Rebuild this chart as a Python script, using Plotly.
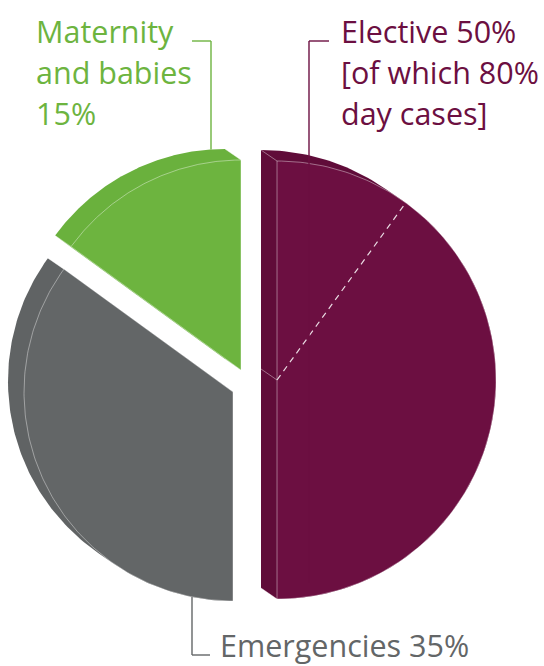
import numpy as np
import plotly.graph_objects as go

# ---- data -------------------------------------------------------------
categories = ["Elective", "Emergencies", "Maternity and babies"]
shares = [50, 35, 15]                 # share of total activity, %
elective_day_case_share = 80          # % of elective work done as day cases
label_lines = [
    ["Elective 50%", "[of which 80%", "day cases]"],
    ["Emergencies 35%"],
    ["Maternity", "and babies", "15%"],
]

# ---- style ------------------------------------------------------------
face_colors = ["#6c0f41", "#636667", "#6db43f"]
wall_colors = ["#600c39", "#606364", "#6ab13d"]
edge_color = "rgba(255,255,255,0.5)"
FONT = "Open Sans"
FONT_SIZE = 30.5

W, H = 544, 666
CX, CY = 256, 380                       # common centre of the pie (axis units = px)
RADIUS = [219, 209, 210]                # nearer slice drawn slightly larger
EXPLODE = [(21, 0), (-23, 12), (-15, -10)]   # offset of each slice from the centre
DEPTH = np.array([-16.0, -11.0])        # extrusion of the back face

LINE_GAP = 41
label_pos = [(342, 41), (221, 655), (37, 41)]   # left x, first baseline y


def arc_point(apex, theta_deg, r):
    t = np.radians(theta_deg)
    return np.array([apex[0] + r * np.sin(t), apex[1] - r * np.cos(t)])


def slice_polygon(apex, a0, a1, r, n=150):
    th = np.linspace(a0, a1, n)
    pts = [np.array(apex)] + [arc_point(apex, t, r) for t in th] + [np.array(apex)]
    return np.array(pts)


def convex_hull(points):
    pts = sorted(set(map(tuple, np.round(points, 4))))
    def cross(o, a, b):
        return (a[0] - o[0]) * (b[1] - o[1]) - (a[1] - o[1]) * (b[0] - o[0])
    lower, upper = [], []
    for p in pts:
        while len(lower) >= 2 and cross(lower[-2], lower[-1], p) <= 0:
            lower.pop()
        lower.append(p)
    for p in reversed(pts):
        while len(upper) >= 2 and cross(upper[-2], upper[-1], p) <= 0:
            upper.pop()
        upper.append(p)
    hull = lower[:-1] + upper[:-1]
    hull.append(hull[0])
    return np.array(hull)


total = float(sum(shares))
bounds = np.concatenate([[0], np.cumsum(shares)]) / total * 360.0

fig = go.Figure()
apexes = []
for i, cat in enumerate(categories):
    a0, a1 = bounds[i], bounds[i + 1]
    r = RADIUS[i]
    apex = np.array([CX + EXPLODE[i][0], CY + EXPLODE[i][1]], dtype=float)
    apexes.append(apex)
    front = slice_polygon(apex, a0, a1, r)
    back = front + DEPTH
    hull = convex_hull(np.vstack([front, back]))

    # side walls (swept volume between back and front faces)
    fig.add_trace(go.Scatter(
        x=hull[:, 0], y=hull[:, 1], mode="lines", fill="toself",
        fillcolor=wall_colors[i], line=dict(width=0, color=wall_colors[i]),
        hoverinfo="skip", showlegend=False))

    # wall edges at the corners
    for p in (apex, arc_point(apex, a0, r), arc_point(apex, a1, r)):
        fig.add_trace(go.Scatter(
            x=[p[0] + DEPTH[0], p[0]], y=[p[1] + DEPTH[1], p[1]], mode="lines",
            line=dict(width=0.8, color=edge_color),
            hoverinfo="skip", showlegend=False))

    # front face
    fig.add_trace(go.Scatter(
        x=front[:, 0], y=front[:, 1], mode="lines", fill="toself",
        fillcolor=face_colors[i], line=dict(width=0.8, color=edge_color),
        name=cat, hoverinfo="name", showlegend=False))

# dashed divider inside the elective slice (non day-case share at the top)
e0, e1 = bounds[0], bounds[1]
div_angle = e0 + (1 - elective_day_case_share / 100.0) * (e1 - e0)
p_end = arc_point(apexes[0], div_angle, RADIUS[0])
fig.add_trace(go.Scatter(
    x=[apexes[0][0], p_end[0]], y=[apexes[0][1], p_end[1]], mode="lines",
    line=dict(width=1.2, color="rgba(255,255,255,0.85)", dash="6px,5px"),
    hoverinfo="skip", showlegend=False))


def arc_y_at_x(i, x, offset):
    """y of slice i's arc (shifted by offset) at a given x."""
    th = np.linspace(bounds[i], bounds[i + 1], 3000)
    pts = np.array([arc_point(apexes[i], t, RADIUS[i]) for t in th]) + offset
    k = np.argmin(np.abs(pts[:, 0] - x))
    return pts[k, 1]


# ---- labels and leader lines -----------------------------------------
for i, lines in enumerate(label_lines):
    lx, ly = label_pos[i]
    for j, txt in enumerate(lines):
        fig.add_annotation(
            x=lx - 2, y=ly + j * LINE_GAP - 10, text=txt, showarrow=False,
            xanchor="left", yanchor="middle", xref="x", yref="y", borderpad=0,
            font=dict(family=FONT, size=FONT_SIZE, color=face_colors[i]))

lw = 1.4
# Elective: elbow from the label down onto the back rim of the slice
ex = 309
ey = arc_y_at_x(0, ex, DEPTH)
fig.add_shape(type="line", x0=ex, x1=329, y0=41, y1=41, line=dict(color=face_colors[0], width=lw))
fig.add_shape(type="line", x0=ex, x1=ex, y0=41, y1=ey, line=dict(color=face_colors[0], width=lw))

# Maternity: elbow to the back rim
mx = 211
my = arc_y_at_x(2, mx, DEPTH)
fig.add_shape(type="line", x0=192, x1=mx, y0=41, y1=41, line=dict(color=face_colors[2], width=lw))
fig.add_shape(type="line", x0=mx, x1=mx, y0=41, y1=my, line=dict(color=face_colors[2], width=lw))

# Emergencies: from the front rim down to the label
gx = 192
gy = arc_y_at_x(1, gx, np.zeros(2))
gb = label_pos[1][1]
fig.add_shape(type="line", x0=gx, x1=gx, y0=gy, y1=gb, line=dict(color=face_colors[1], width=lw))
fig.add_shape(type="line", x0=gx, x1=210, y0=gb, y1=gb, line=dict(color=face_colors[1], width=lw))

fig.update_layout(
    width=W, height=H, margin=dict(l=0, r=0, t=0, b=0),
    paper_bgcolor="white", plot_bgcolor="white", showlegend=False,
    xaxis=dict(range=[0, W], visible=False, fixedrange=True),
    yaxis=dict(range=[H, 0], visible=False, fixedrange=True),
)
fig.write_html("out.html")
